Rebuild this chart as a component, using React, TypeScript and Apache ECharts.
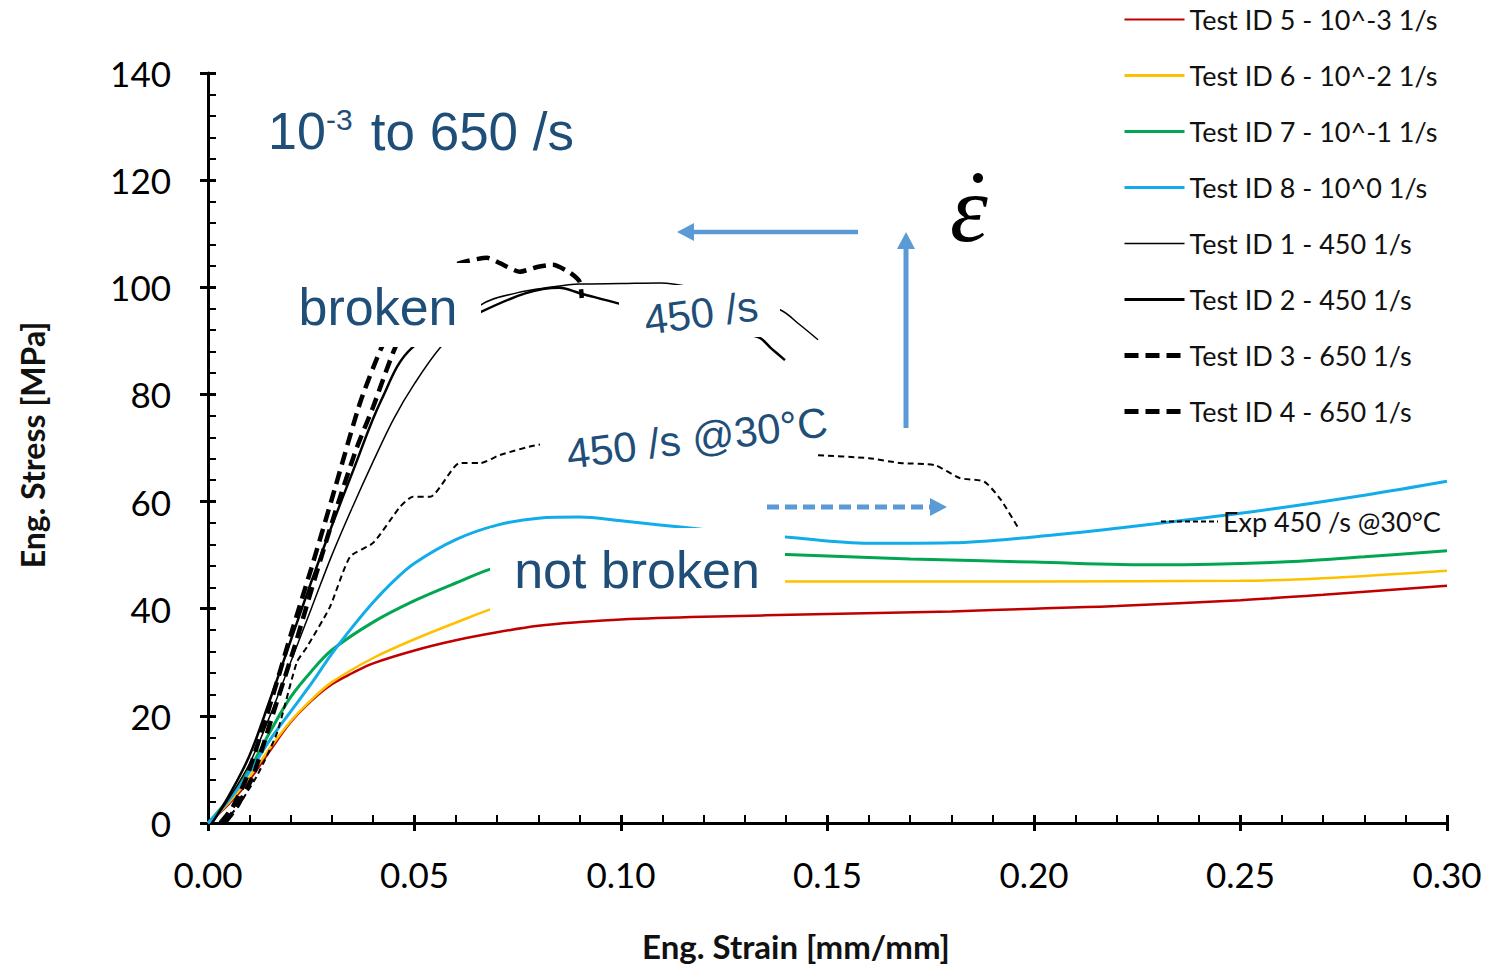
import React, { useEffect, useRef } from 'react';
import * as echarts from 'echarts';

// ---- data: [strain, stress] ----
const id5Red = [[0,0],[0.005,3.5],[0.01,8],[0.015,13.5],[0.02,18.8],[0.025,22.8],[0.03,25.9],[0.035,28],[0.04,29.8],[0.05,32.2],[0.06,34.1],[0.07,35.6],[0.08,36.8],[0.09,37.5],[0.10,38],[0.12,38.5],[0.15,39],[0.18,39.5],[0.20,40],[0.22,40.5],[0.25,41.6],[0.27,42.6],[0.30,44.3]];
const id6Yellow = [[0,0],[0.005,3.8],[0.01,8.5],[0.015,14],[0.02,19],[0.025,23],[0.03,26.3],[0.04,30.8],[0.05,34.3],[0.06,37.4],[0.07,40.3],[0.08,42.3],[0.10,44.2],[0.12,44.9],[0.15,45.1],[0.20,45.1],[0.25,45.2],[0.27,45.7],[0.30,47.1]];
const id7Green = [[0,0],[0.005,4.5],[0.01,10],[0.015,17],[0.02,23.5],[0.025,28.3],[0.03,32.3],[0.04,37.5],[0.05,41.5],[0.06,44.8],[0.07,47.8],[0.08,49.3],[0.10,50.3],[0.12,50.4],[0.14,50.1],[0.17,49.3],[0.20,48.7],[0.23,48.2],[0.26,48.7],[0.28,49.7],[0.30,50.8]];
const id8Blue = [[0,0],[0.005,4.2],[0.01,9.5],[0.015,15.5],[0.02,20.8],[0.025,26],[0.03,31.6],[0.035,36.6],[0.04,41.2],[0.045,45.2],[0.05,48.5],[0.06,52.9],[0.07,55.6],[0.08,56.9],[0.09,57.1],[0.10,56.4],[0.11,55.6],[0.12,54.8],[0.13,54.1],[0.14,53.4],[0.16,52.2],[0.18,52.3],[0.20,53.4],[0.22,55],[0.25,57.8],[0.28,61.2],[0.30,63.8]];
const id1Thin = [[0.001,0],[0.005,4.5],[0.01,11],[0.015,20],[0.02,30],[0.025,40],[0.03,50],[0.035,59],[0.04,67.5],[0.045,75.5],[0.05,82],[0.0562,88.7],[0.0661,96.7],[0.075,99],[0.0828,100],[0.09,100.6],[0.10,100.7],[0.1094,100.8],[0.12,99.5],[0.13,97.5],[0.1385,95.8],[0.1433,93],[0.1477,90.2]];
const id2Solid = [[0.001,0],[0.005,5],[0.01,12.5],[0.015,23],[0.02,34],[0.025,45],[0.03,55.5],[0.035,65.5],[0.042,79],[0.0494,88.7],[0.0661,95.4],[0.077,98.9],[0.085,99.9],[0.09,98.9],[0.0993,97],[0.11,95],[0.12,93],[0.1332,90.7],[0.1365,88.5],[0.1397,86.4]];
const id3Dash = [[0.003,0],[0.006,3],[0.0094,8.6],[0.015,22],[0.02,35],[0.025,47.5],[0.03,60.5],[0.0368,78.4],[0.042,88.7],[0.048,97],[0.055,102.5],[0.0617,104.7],[0.0676,105.5],[0.0707,104.5],[0.0755,102.9],[0.0797,103.8],[0.0835,104.2],[0.0877,102.7],[0.09,101],[0.0905,98]];
const id4Dash = [[0.004,0],[0.007,3],[0.011,9],[0.016,21],[0.021,33],[0.026,46],[0.031,58.5],[0.036,70],[0.04,77.7],[0.0453,88.7],[0.05,95],[0.055,98]];
const exp450 = [[0.004,0],[0.008,4],[0.012,9],[0.0167,16.8],[0.0215,30],[0.024,32.9],[0.0295,40.3],[0.0344,49.7],[0.04,52.3],[0.0465,59],[0.0496,60.9],[0.0538,60.9],[0.061,67.2],[0.066,67.2],[0.0707,68.7],[0.08,70.6],[0.09,71],[0.10,71],[0.12,70],[0.14,69],[0.147,68.7],[0.16,68.1],[0.1676,67.2],[0.176,66.8],[0.182,64.4],[0.188,63.7],[0.192,60.3],[0.196,55.3]];

const legendNames = [
  'Test ID 5 - 10^-3 1/s',
  'Test ID 6 - 10^-2 1/s',
  'Test ID 7 - 10^-1 1/s',
  'Test ID 8 - 10^0 1/s',
  'Test ID 1 - 450 1/s',
  'Test ID 2 - 450 1/s',
  'Test ID 3 - 650 1/s',
  'Test ID 4 - 650 1/s',
];
const expName = 'Exp 450 /s @30°C';

const xTickMin = 0;
const xTickMax = 0.3;
const xTickStep = 0.05;
const yTickMin = 0;
const yTickMax = 140;
const yTickStep = 20;

const BLUE_TEXT = '#1F4E79';
const ARROW = '#5B9BD5';
const SANS = '"Liberation Sans", Arial, sans-serif';
const LABEL_FONT = 'Lato, "Open Sans", sans-serif';

export default function App() {
  const ref = useRef<HTMLDivElement>(null);
  useEffect(() => {
    const chart = echarts.init(ref.current!, null, { renderer: 'svg' });
    const styles: Record<string, { color: string; width: number; type: any; lw: number; smooth: number }> = {
      [legendNames[0]]: { color: '#C00000', width: 2.5, type: 'solid', lw: 2, smooth: 0.35 },
      [legendNames[1]]: { color: '#FFC000', width: 2.5, type: 'solid', lw: 3, smooth: 0.35 },
      [legendNames[2]]: { color: '#00A651', width: 3, type: 'solid', lw: 3, smooth: 0.35 },
      [legendNames[3]]: { color: '#12ACE8', width: 3, type: 'solid', lw: 3, smooth: 0.35 },
      [legendNames[4]]: { color: '#000', width: 1.5, type: 'solid', lw: 1.5, smooth: 0.35 },
      [legendNames[5]]: { color: '#000', width: 2.5, type: 'solid', lw: 3, smooth: 0.35 },
      [legendNames[6]]: { color: '#000', width: 4.5, type: [13, 7], lw: 5, smooth: 0.2 },
      [legendNames[7]]: { color: '#000', width: 4.5, type: [13, 7], lw: 5, smooth: 0.2 },
      [expName]: { color: '#000', width: 2, type: [6, 4], lw: 2, smooth: 0.2 },
    };
    const lineSeries = (name: string, data: number[][]) => {
      const s = styles[name];
      return {
        name,
        type: 'line',
        data,
        symbol: 'none',
        smooth: s.smooth,
        lineStyle: { color: s.color, width: s.width, type: s.type },
        itemStyle: { color: s.color },
        z: 3,
      };
    };
    const legendItem = (name: string) => {
      const s = styles[name];
      const legType = Array.isArray(s.type) ? (name === expName ? [5, 3] : [14, 7]) : 'solid';
      return { name, lineStyle: { color: s.color, width: s.lw, type: legType }, itemStyle: { opacity: 0 } };
    };
    const axisCommonX = { type: 'value', min: xTickMin, max: xTickMax, interval: xTickStep, position: 'bottom', gridIndex: 0 };
    const axisCommonY = { type: 'value', min: yTickMin, max: yTickMax, interval: yTickStep, position: 'left', gridIndex: 0 };
    const legendText = { fontFamily: LABEL_FONT, fontSize: 27, color: '#111', lineHeight: 27 };
    const option: any = {
      animation: false,
      backgroundColor: '#ffffff',
      grid: { left: 208, right: 41, top: 73, bottom: 143, containLabel: false },
      xAxis: [
        {
          ...axisCommonX,
          axisLine: { show: true, lineStyle: { color: '#000', width: 3 } },
          axisTick: { show: true, inside: false, length: 8, lineStyle: { color: '#000', width: 3 } },
          axisLabel: { formatter: (v: number) => v.toFixed(2), fontFamily: LABEL_FONT, fontSize: 35, color: '#000', margin: 33 },
          splitLine: { show: false },
        },
        {
          ...axisCommonX,
          axisLine: { show: false },
          axisTick: { show: true, inside: true, length: 8, lineStyle: { color: '#000', width: 3 } },
          minorTick: { show: true, splitNumber: 5, length: 8, lineStyle: { color: '#000', width: 2 } },
          axisLabel: { show: false },
          splitLine: { show: false },
        },
      ],
      yAxis: [
        {
          ...axisCommonY,
          axisLine: { show: true, lineStyle: { color: '#000', width: 3 } },
          axisTick: { show: true, inside: false, length: 8, lineStyle: { color: '#000', width: 3 } },
          axisLabel: { fontFamily: LABEL_FONT, fontSize: 35, color: '#000', margin: 37 },
          splitLine: { show: false },
        },
        {
          ...axisCommonY,
          axisLine: { show: false },
          axisTick: { show: true, inside: true, length: 8, lineStyle: { color: '#000', width: 3 } },
          minorTick: { show: true, splitNumber: 5, length: 8, lineStyle: { color: '#000', width: 2 } },
          axisLabel: { show: false },
          splitLine: { show: false },
        },
      ],
      legend: [
        {
          data: legendNames.map(legendItem),
          orient: 'vertical',
          left: 1122,
          top: 6,
          padding: 0,
          itemWidth: 60,
          itemHeight: 27,
          itemGap: 29,
          itemStyle: { opacity: 0 },
          textStyle: legendText,
          selectedMode: false,
        },
        {
          data: [legendItem(expName)],
          orient: 'vertical',
          left: 1160,
          top: 508,
          padding: 0,
          itemWidth: 57,
          itemHeight: 27,
          itemStyle: { opacity: 0 },
          textStyle: legendText,
          selectedMode: false,
        },
      ],
      series: [
        lineSeries(legendNames[0], id5Red),
        lineSeries(legendNames[1], id6Yellow),
        lineSeries(legendNames[2], id7Green),
        lineSeries(legendNames[3], id8Blue),
        lineSeries(expName, exp450),
        lineSeries(legendNames[4], id1Thin),
        lineSeries(legendNames[5], id2Solid),
        lineSeries(legendNames[6], id3Dash),
        lineSeries(legendNames[7], id4Dash),
      ],
      graphic: [
        // axis titles
        { type: 'text', z: 100, x: 32, y: 445, rotation: Math.PI / 2, style: { text: 'Eng. Stress [MPa]', fontFamily: LABEL_FONT, fontWeight: 'bold', fontSize: 32, fill: '#111', align: 'center', verticalAlign: 'middle' } },
        { type: 'text', z: 100, x: 796, y: 946, style: { text: 'Eng. Strain [mm/mm]', fontFamily: LABEL_FONT, fontWeight: 'bold', fontSize: 33, fill: '#111', align: 'center', verticalAlign: 'middle' } },
        // title text
        { type: 'text', z: 100, x: 268, y: 131, style: { text: '10', fontFamily: SANS, fontSize: 52, fill: BLUE_TEXT, align: 'left', verticalAlign: 'middle' } },
        { type: 'text', z: 100, x: 326, y: 119, style: { text: '-3', fontFamily: SANS, fontSize: 30, fill: BLUE_TEXT, align: 'left', verticalAlign: 'middle' } },
        { type: 'text', z: 100, x: 356, y: 131, style: { text: ' to 650 /s', fontFamily: SANS, fontSize: 53, fill: BLUE_TEXT, align: 'left', verticalAlign: 'middle' } },
        // white label boxes
        { type: 'rect', z: 100, shape: { x: 282, y: 263, width: 199, height: 84 }, style: { fill: '#fff' } },
        { type: 'text', z: 101, x: 378, y: 307, style: { text: 'broken', fontFamily: SANS, fontSize: 52, fill: BLUE_TEXT, align: 'center', verticalAlign: 'middle' } },
        { type: 'rect', z: 100, shape: { x: 490, y: 528, width: 295, height: 85 }, style: { fill: '#fff' } },
        { type: 'text', z: 101, x: 637, y: 570, style: { text: 'not broken', fontFamily: SANS, fontSize: 52, fill: BLUE_TEXT, align: 'center', verticalAlign: 'middle' } },
        { type: 'rect', z: 100, shape: { x: 619, y: 285, width: 161, height: 52 }, style: { fill: '#fff' } },
        { type: 'text', z: 101, x: 701, y: 313, rotation: 0.13, style: { text: '450 /s', fontFamily: SANS, fontSize: 42, fill: BLUE_TEXT, align: 'center', verticalAlign: 'middle' } },
        { type: 'rect', z: 100, shape: { x: 540, y: 398, width: 275, height: 80 }, style: { fill: '#fff' } },
        { type: 'text', z: 101, x: 697, y: 438, rotation: 0.125, style: { text: '450 /s @30°C', fontFamily: SANS, fontSize: 42, fill: BLUE_TEXT, align: 'center', verticalAlign: 'middle' } },
        // arrows
        { type: 'line', z: 102, shape: { x1: 858, y1: 232, x2: 692, y2: 232 }, style: { stroke: ARROW, lineWidth: 4.5 } },
        { type: 'polygon', z: 102, shape: { points: [[677, 232], [694, 223], [694, 241]] }, style: { fill: ARROW } },
        { type: 'line', z: 102, shape: { x1: 906, y1: 428, x2: 906, y2: 247 }, style: { stroke: ARROW, lineWidth: 5 } },
        { type: 'polygon', z: 102, shape: { points: [[906, 232], [897, 249], [915, 249]] }, style: { fill: ARROW } },
        { type: 'line', z: 102, shape: { x1: 767, y1: 507, x2: 930, y2: 507 }, style: { stroke: ARROW, lineWidth: 5, lineDash: [12, 6] } },
        { type: 'polygon', z: 102, shape: { points: [[947, 507], [930, 498], [930, 516]] }, style: { fill: ARROW } },
        // strain-rate symbol
        { type: 'text', z: 102, x: 969, y: 208, style: { text: 'ε', fontFamily: '"Liberation Serif", "DejaVu Serif", serif', fontStyle: 'italic', fontSize: 96, fill: '#000', align: 'center', verticalAlign: 'middle' } },
        { type: 'circle', z: 102, shape: { cx: 978, cy: 178, r: 5 }, style: { fill: '#000' } },
      ],
    };
    chart.setOption(option);
    return () => chart.dispose();
  }, []);
  return <div ref={ref} style={{ position: 'fixed', left: 0, top: 0, width: 1488, height: 966 }} />;
}
